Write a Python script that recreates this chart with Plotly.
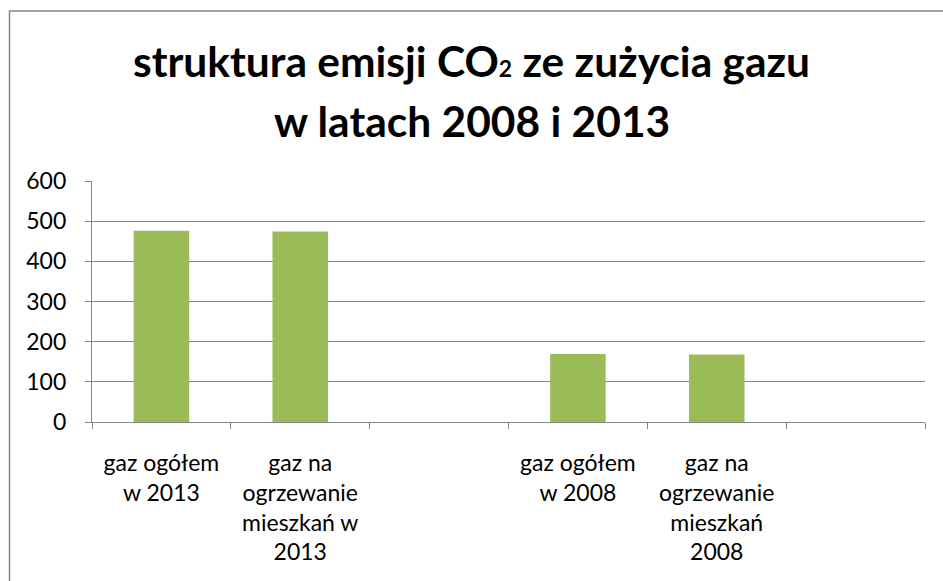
import plotly.graph_objects as go

categories = ["c1", "c2", "c3", "c4", "c5", "c6"]
tick_labels = [
    "gaz ogółem<br>w 2013",
    "gaz na<br>ogrzewanie<br>mieszkań w<br>2013",
    "",
    "gaz ogółem<br>w 2008",
    "gaz na<br>ogrzewanie<br>mieszkań<br>2008",
    "",
]
values = [476, 474, None, 169, 168, None]
y_ticks = [0, 100, 200, 300, 400, 500, 600]
title_lines = [
    "struktura emisji CO<span style='font-size:23px'>2</span> ze zużycia gazu",
    "w latach 2008 i 2013",
]

FONT = "Lato"
GRID = "#868686"

fig = go.Figure(
    go.Bar(x=categories, y=values, marker=dict(color="#9BBB59", line=dict(width=0)))
)

W, H = 943, 581
L, R, T, B = 92, 18, 181, 159
pw, ph = W - L - R, H - T - B

def px_x(p):
    return (p - L) / pw

def px_y(p):
    return 1 - (p - T) / ph

fig.update_layout(
    width=W,
    height=H,
    margin=dict(l=L, r=R, t=T, b=B),
    paper_bgcolor="white",
    plot_bgcolor="white",
    showlegend=False,
    bargap=0.6,
    font=dict(family=FONT, color="black", size=23),
    xaxis=dict(
        type="category",
        tickvals=categories,
        ticktext=tick_labels,
        tickson="boundaries",
        ticks="outside",
        ticklen=6,
        tickcolor=GRID,
        tickwidth=1.3,
        showline=True,
        linecolor=GRID,
        linewidth=1.3,
        showgrid=False,
        tickfont=dict(size=23, family=FONT),
        ticklabelstandoff=20,
        range=[-0.5, 5.5],
    ),
    yaxis=dict(
        range=[0, 600],
        tickvals=y_ticks,
        ticks="outside",
        ticklen=6,
        tickcolor=GRID,
        tickwidth=1.3,
        showline=True,
        linecolor=GRID,
        linewidth=1.3,
        showgrid=True,
        gridcolor=GRID,
        gridwidth=1.3,
        zeroline=False,
        tickfont=dict(size=23, family=FONT),
        ticklabelstandoff=14,
    ),
)

# chart frame
fig.add_shape(
    type="rect", xref="paper", yref="paper",
    x0=px_x(9.5), x1=px_x(W + 10), y0=px_y(H + 10), y1=px_y(11),
    line=dict(color=GRID, width=1.5), fillcolor="rgba(0,0,0,0)", layer="below",
)

title_y = [60, 120]
for line, yy in zip(title_lines, title_y):
    fig.add_annotation(
        text="<b>" + line + "</b>", xref="paper", yref="paper",
        x=px_x(W / 2), y=px_y(yy), xanchor="center", yanchor="middle",
        showarrow=False, font=dict(size=42.5, family=FONT, color="black"),
    )

fig.write_html(
    "out.html",
    config={"displayModeBar": False},
    post_script="document.body.style.margin='0px';",
)
